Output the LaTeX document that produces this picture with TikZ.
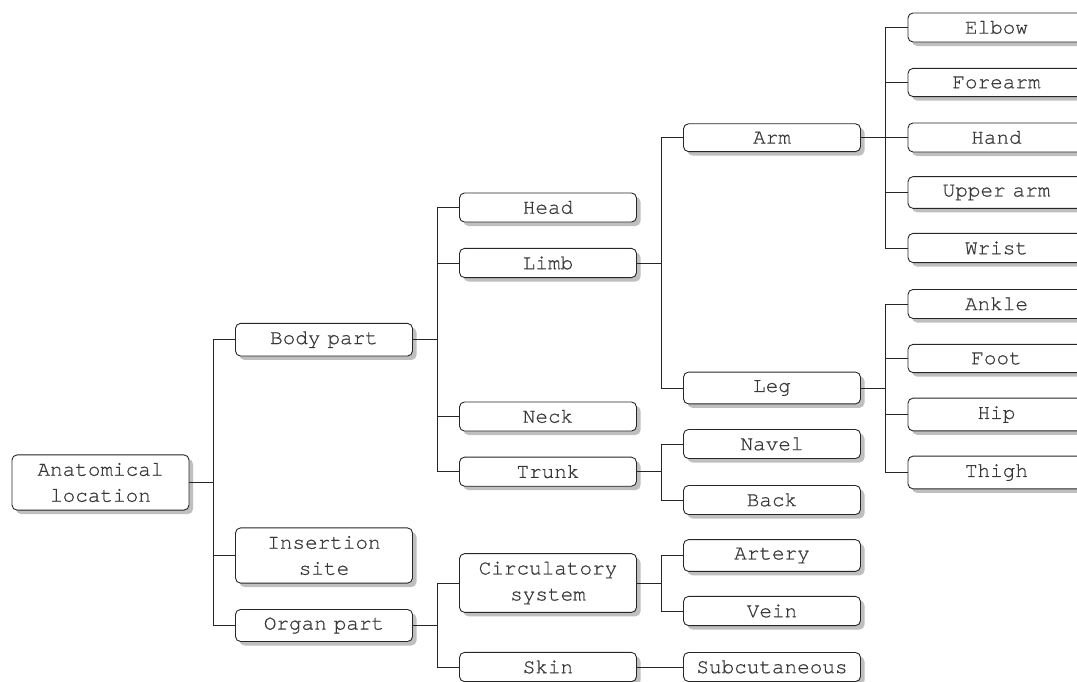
\documentclass[tikz,border=0pt]{standalone}
\usepackage{fontspec}
\setmonofont[WordSpace=0.55,FakeBold=0.6]{texgyrecursor-regular.otf}
\usetikzlibrary{shadows}
\tikzset{
  box/.style={draw=black!85, line width=0.9pt, rounded corners=5pt, fill=white,
    minimum width=177pt, inner xsep=4pt, inner ysep=8pt, align=center,
    text=black!78, font=\ttfamily\fontsize{21}{26}\selectfont,
    drop shadow={shadow xshift=4pt, shadow yshift=-4pt, fill=black!25, opacity=1}},
  conn/.style={draw=black!85, line width=0.9pt}
}
\begin{document}
\begin{tikzpicture}[x=1pt,y=-1pt]
\useasboundingbox (0,0) rectangle (1077,682);
% column 0
\node[box] (anat) at (100.5,482.5) {Anatomical\\location};
% column 1
\node[box] (body) at (324,339.7) {Body part};
\node[box] (ins) at (324,555.5) {Insertion\\site};
\node[box] (organ) at (324,625.5) {Organ part};
% column 2
\node[box] (head) at (548,207.5) {Head};
\node[box] (limb) at (548,263) {Limb};
\node[box] (neck) at (548,416.5) {Neck};
\node[box] (trunk) at (548,471.7) {Trunk};
\node[box] (circ) at (548,583) {Circulatory\\system};
\node[box] (skin) at (548,667) {Skin};
% column 3
\node[box] (arm) at (772,137.7) {Arm};
\node[box] (leg) at (772,388) {Leg};
\node[box] (navel) at (772,444) {Navel};
\node[box] (back) at (772,500) {Back};
\node[box] (artery) at (772,555.5) {Artery};
\node[box] (vein) at (772,611) {Vein};
\node[box] (subc) at (772,667) {Subcutaneous};
% column 4
\node[box] (elbow) at (996.5,27.5) {Elbow};
\node[box] (forearm) at (996.5,82.5) {Forearm};
\node[box] (hand) at (996.5,137.5) {Hand};
\node[box] (upper) at (996.5,192.5) {Upper arm};
\node[box] (wrist) at (996.5,248) {Wrist};
\node[box] (ankle) at (996.5,304) {Ankle};
\node[box] (foot) at (996.5,358.5) {Foot};
\node[box] (hip) at (996.5,414.5) {Hip};
\node[box] (thigh) at (996.5,472.5) {Thigh};
% connectors
\foreach \p/\c in {anat/body,anat/ins,anat/organ,
  body/head,body/limb,body/neck,body/trunk,
  organ/circ,organ/skin,
  limb/arm,limb/leg,
  trunk/navel,trunk/back,
  circ/artery,circ/vein,
  arm/elbow,arm/forearm,arm/hand,arm/upper,arm/wrist,
  leg/ankle,leg/foot,leg/hip,leg/thigh}
  {\draw[conn] (\p.east) -- ++(24,0) |- (\c.west);}
\draw[conn] (skin.east) -- (subc.west);
\end{tikzpicture}
\end{document}
